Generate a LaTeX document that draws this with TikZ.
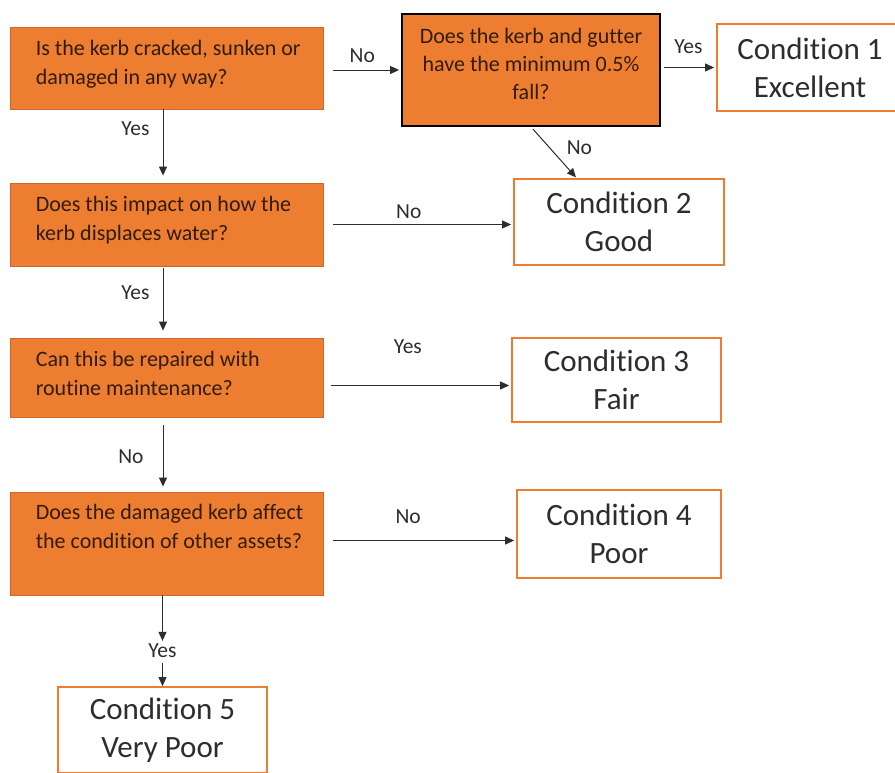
\documentclass[tikz,border=0pt]{standalone}
\usepackage{fontspec}
\setmainfont{Carlito}[Ligatures=NoCommon]
\usetikzlibrary{calc, positioning, arrows.meta}
\definecolor{KerbOrange}{RGB}{237,125,49}
\definecolor{KerbEdge}{RGB}{205,105,40}
\definecolor{inkgrey}{RGB}{45,45,45}
\definecolor{qtextcol}{RGB}{50,28,12}

\begin{document}
\begin{tikzpicture}[x=1pt, y=-1pt,
  question/.style={rectangle, fill=KerbOrange, draw=KerbEdge, line width=0.8pt, minimum width=313pt, inner sep=0pt},
  qtext/.style={align=left, text=qtextcol, font=\fontsize{22}{29}\selectfont, inner sep=0pt},
  condition/.style={rectangle, draw=KerbOrange, line width=1.8pt, fill=white, align=center, text=inkgrey, font=\fontsize{31}{38}\selectfont, inner sep=0pt},
  flow/.style={draw=inkgrey, line width=1pt, -{Triangle[length=9pt, width=8pt]}},
  answer/.style={text=inkgrey, font=\fontsize{21.5}{24}\selectfont, inner sep=2pt}]
  \useasboundingbox (0,0) rectangle (895,772);

  \node[question, minimum height=82pt] (q1) at (166.5,68) {};
  \node[question, minimum height=83pt] (q3) at (166.5,224.5) {};
  \node[question, minimum height=79pt] (q4) at (166.5,377.5) {};
  \node[question, minimum height=103pt] (q5) at (166.5,543.5) {};
  \node[question, draw=black, line width=1.8pt, minimum width=258pt, minimum height=112pt] (q2) at (531,70) {};

  \node[qtext, right=26pt of q1.west, yshift=4pt] (q1t) {Is the kerb cracked, sunken or\\damaged in any way?};
  \node[qtext, align=center, yshift=6pt, font=\fontsize{22}{28}\selectfont] (q2t) at (q2) {Does the kerb and gutter\\have the minimum 0.5\%\\fall?};
  \node[qtext, right=26pt of q3.west, yshift=4pt] (q3t) {Does this impact on how the\\kerb displaces water?};
  \node[qtext, right=26pt of q4.west, yshift=4pt] (q4t) {Can this be repaired with\\routine maintenance?};
  \node[qtext, right=26pt of q5.west, yshift=17pt] (q5t) {Does the damaged kerb affect\\the condition of other assets?};

  \foreach \n/\x/\y/\w/\h/\t in {c1/810/67.5/186/87/{Condition 1\\Excellent},
                                c2/619/222/210/86/{Condition 2\\Good},
                                c3/616.5/380/209/84/{Condition 3\\Fair},
                                c4/619/534/204/88/{Condition 4\\Poor},
                                c5/162.5/730/209/86/{Condition 5\\Very Poor}} {
    \node[condition, minimum width=\w pt, minimum height=\h pt] (\n) at (\x,\y) {\t};
  }

  \draw[flow, shorten <=10pt, shorten >=2pt] (q1.east |- q2.west) -- node[answer, above=5pt] {No} (q2.west);
  \draw[flow, shorten <=3pt, shorten >=2pt] (q2.east |- c1.west) -- node[answer, above=11pt] {Yes} (c1.west);
  \draw[flow, shorten <=3pt, shorten >=1pt] (q2.south) -- node[answer, pos=0.4, right=15pt] {No}
        ($(c2.north west)!0.3!(c2.north east)$);
  \draw[flow, shorten >=7pt] ([xshift=-3.5pt]q1.south) -- node[answer, left=11pt, pos=0.27] {Yes} ([xshift=-3.5pt]q3.north);
  \draw[flow, shorten <=10pt, shorten >=2pt] (q3.east) -- node[answer, above=3pt, pos=0.45] {No} (q3.east -| c2.west);
  \draw[flow, shorten <=2pt, shorten >=7pt] ([xshift=-3.5pt]q3.south) -- node[answer, left=11pt, pos=0.37] {Yes} ([xshift=-3.5pt]q4.north);
  \draw[flow, shorten <=8pt, shorten >=2pt] ([yshift=-8pt]q4.east) -- node[answer, above=29pt, pos=0.45] {Yes} ([yshift=-8pt]q4.east -| c3.west);
  \draw[flow, shorten <=8pt, shorten >=5pt] ([xshift=-3.5pt]q4.south) -- node[answer, left=17pt, pos=0.53] {No} ([xshift=-3.5pt]q5.north);
  \draw[flow, shorten <=10pt, shorten >=2pt] ([yshift=3pt]q5.east) -- node[answer, above=14pt, pos=0.44] {No} ([yshift=3pt]q5.east -| c4.west);
  \node[answer] (yes5) at (162.5,651) {Yes};
  \draw[flow, shorten >=1pt] (q5.south -| yes5.north) -- (yes5.north);
  \draw[flow, shorten <=3pt] (yes5.south) -- (c5.north);
\end{tikzpicture}
\end{document}
